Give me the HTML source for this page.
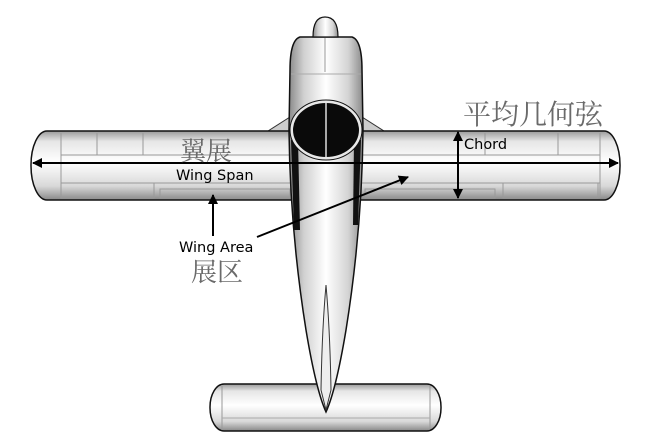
<!DOCTYPE html>
<html><head><meta charset="utf-8"><style>
html,body{margin:0;padding:0;background:#fff;}
svg{display:block;}
.cn{font-family:"Liberation Serif","Noto Serif CJK SC","Noto Sans CJK SC",serif;fill:#6a6a6a;}
.en{font-family:"DejaVu Sans","Liberation Sans",sans-serif;fill:#000;font-size:14.5px;}
</style></head><body>
<svg width="647" height="446" viewBox="0 0 647 446" xmlns="http://www.w3.org/2000/svg">
<defs>
<linearGradient id="gv" x1="0" y1="0" x2="0" y2="1">
<stop offset="0" stop-color="#9a9a9a"/><stop offset="0.15" stop-color="#e6e6e6"/><stop offset="0.45" stop-color="#ffffff"/><stop offset="0.8" stop-color="#d8d8d8"/><stop offset="1" stop-color="#888"/>
</linearGradient>
<linearGradient id="gh" x1="0" y1="0" x2="1" y2="0">
<stop offset="0" stop-color="#8a8a8a"/><stop offset="0.2" stop-color="#d0d0d0"/><stop offset="0.5" stop-color="#ffffff"/><stop offset="0.8" stop-color="#d4d4d4"/><stop offset="1" stop-color="#8a8a8a"/>
</linearGradient>
<marker id="ah" viewBox="0 0 10 10" refX="9" refY="5" markerWidth="12" markerHeight="10" markerUnits="userSpaceOnUse" orient="auto-start-reverse">
<path d="M0,0 L10,5 L0,10 z" fill="#000"/></marker>
<marker id="ah2" viewBox="0 0 10 10" refX="9" refY="5" markerWidth="16" markerHeight="10" markerUnits="userSpaceOnUse" orient="auto-start-reverse">
<path d="M0,0 L10,5 L0,10 z" fill="#000"/></marker>
</defs>

<rect x="210" y="384" width="231" height="47" rx="14" ry="23" fill="url(#gv)" stroke="#111" stroke-width="1.5"/>
<line x1="222" y1="386" x2="222" y2="429" stroke="#999"/>
<line x1="430" y1="386" x2="430" y2="429" stroke="#999"/>
<line x1="222" y1="418" x2="430" y2="418" stroke="#aaa"/>

<path d="M268,131 L290,117 L362,117 L384,131 Z" fill="#ccc" stroke="#333"/>
<rect x="31" y="131" width="589" height="69" rx="16" ry="34" fill="url(#gv)" stroke="#111" stroke-width="1.5"/>
<g stroke="#999" stroke-width="1" fill="none">
<line x1="61" y1="133" x2="61" y2="198"/>
<line x1="600" y1="133" x2="600" y2="198"/>
<line x1="97" y1="133" x2="97" y2="155"/><line x1="143" y1="133" x2="143" y2="155"/>
<line x1="485" y1="133" x2="485" y2="155"/><line x1="558" y1="133" x2="558" y2="155"/>
<line x1="61" y1="155" x2="600" y2="155"/>
<line x1="61" y1="183" x2="600" y2="183"/>
<rect x="61" y="183" width="93" height="15"/>
<rect x="160" y="189" width="130" height="9"/>
<rect x="365" y="189" width="130" height="9"/>
<rect x="503" y="183" width="95" height="15"/>
</g>

<path d="M300,37 L352,37 Q362,40 362,70 L363,130 Q362,230 346,330 Q336,390 326,412 Q316,390 306,330 Q290,230 289,130 L290,70 Q290,40 300,37 Z" fill="url(#gh)" stroke="#111" stroke-width="1.5"/>
<path d="M313,37 Q313,17 325,17 Q338,17 338,37 Z" fill="url(#gh)" stroke="#111" stroke-width="1.2"/>
<line x1="325" y1="38" x2="325" y2="72" stroke="#999"/>
<line x1="291" y1="74" x2="361" y2="74" stroke="#aaa"/>
<path d="M291,140 L298,140 L300,230 L294,230 Z" fill="#111"/>
<path d="M354,140 L361,140 L358,225 L353,225 Z" fill="#111"/>
<ellipse cx="326" cy="130" rx="36" ry="30" fill="#e8e8e8" stroke="#111"/>
<ellipse cx="326" cy="130" rx="33" ry="27" fill="#0a0a0a"/>
<line x1="326" y1="103" x2="326" y2="157" stroke="#ddd" stroke-width="1.5"/>
<path d="M326,285 Q330,330 331,390 L326,410 L321,390 Q322,330 326,285 Z" fill="#eee" stroke="#333"/>

<line x1="33" y1="163" x2="618" y2="163" stroke="#000" stroke-width="2" marker-start="url(#ah2)" marker-end="url(#ah2)"/>
<line x1="458" y1="132" x2="458" y2="198" stroke="#000" stroke-width="2" marker-start="url(#ah)" marker-end="url(#ah)"/>
<line x1="213" y1="236" x2="213" y2="195" stroke="#000" stroke-width="2" marker-end="url(#ah)"/>
<line x1="257" y1="237" x2="408" y2="177" stroke="#000" stroke-width="2" marker-end="url(#ah2)"/>

<text class="cn" x="463" y="124" font-size="28">平均几何弦</text>
<text class="cn" x="180" y="160" font-size="26">翼展</text>
<text class="cn" x="191" y="281" font-size="26">展区</text>
<text class="en" x="176" y="180">Wing Span</text>
<text class="en" x="179" y="252">Wing Area</text>
<text class="en" x="464" y="149">Chord</text>
</svg>
</body></html>
